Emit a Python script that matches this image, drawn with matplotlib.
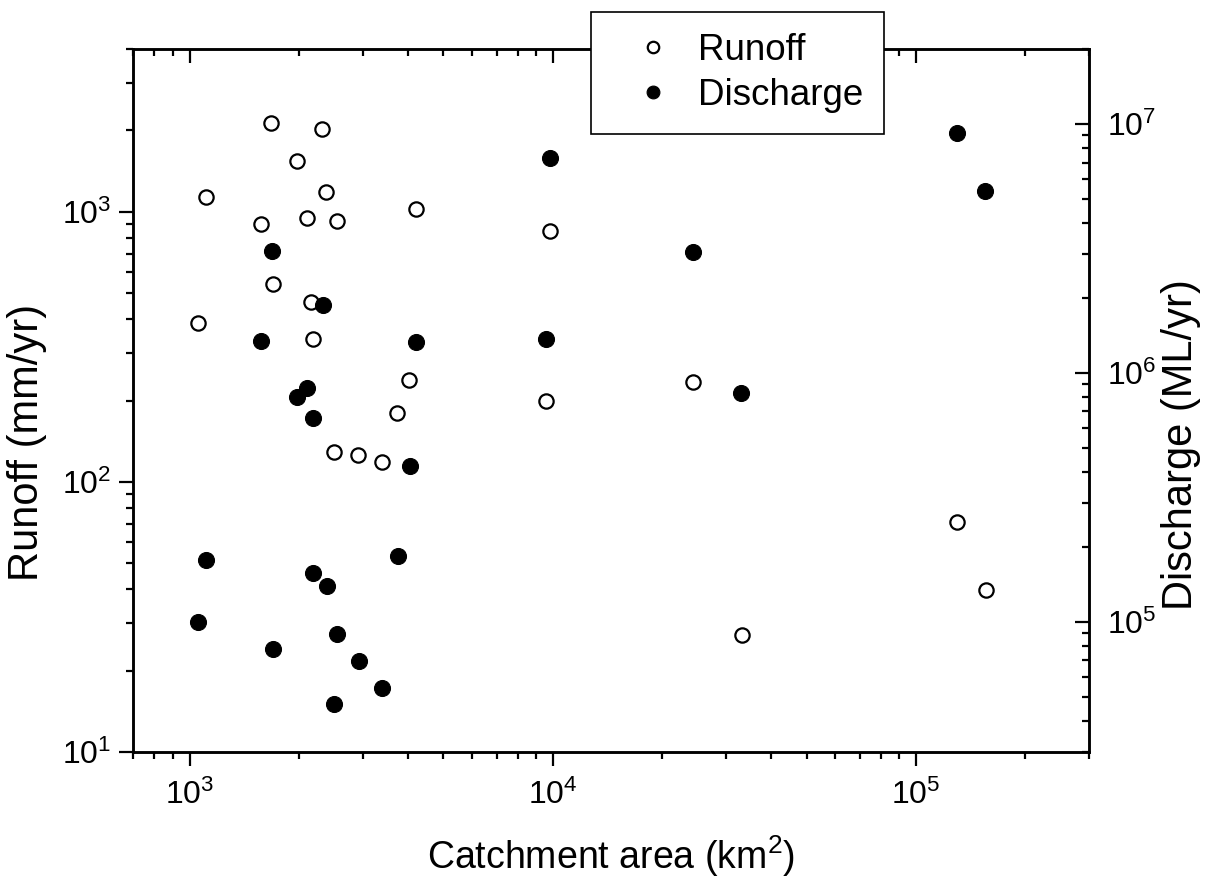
import numpy as np
import matplotlib
matplotlib.use('Agg')
import matplotlib.pyplot as plt
from matplotlib.ticker import LogLocator, NullFormatter, FuncFormatter

plt.rcParams['font.family'] = ['Liberation Sans', 'DejaVu Sans']
plt.rcParams['mathtext.fontset'] = 'custom'
plt.rcParams['mathtext.rm'] = 'Liberation Sans'
plt.rcParams['mathtext.it'] = 'Liberation Sans:italic'
plt.rcParams['mathtext.bf'] = 'Liberation Sans:bold'
plt.rcParams['mathtext.default'] = 'regular'

# ---- data ----
area_runoff = [1680, 2320, 1980, 2380, 1107, 4200, 2100, 2540, 1570, 9840,
               1700, 2165, 1054, 2190, 4025, 9550, 3720, 2495, 2910, 3380,
               24400, 129800, 156000, 33150]
runoff = [2125, 2020, 1545, 1183, 1136, 1021, 950, 924, 900, 850,
          538, 462, 386, 337, 239, 200, 180, 129, 126, 118.6,
          234, 70.9, 39.7, 27.0]

area_discharge = [9840, 1683, 2336, 1570, 4200, 9550, 2100, 1980, 2190, 4050,
                  1107, 3740, 2190, 2390, 1054, 2540, 1700, 2925, 3380, 2500,
                  24400, 32940, 129800, 155100]
discharge = [7.28e6, 3.09e6, 1.87e6, 1.34e6, 1.336e6, 1.366e6, 8.73e5, 8.03e5, 6.58e5, 4.23e5,
             1.774e5, 1.841e5, 1.569e5, 1.399e5, 9.94e4, 8.93e4, 7.77e4, 6.99e4, 5.43e4, 4.69e4,
             3.06e6, 8.31e5, 9.2e6, 5.38e6]

series_labels = ['Runoff', 'Discharge']
xlabel = 'Catchment area (km$^2$)'
ylabel_left = 'Runoff (mm/yr)'
ylabel_right = 'Discharge (ML/yr)'

W, H = 1211, 886
fig = plt.figure(figsize=(W / 100, H / 100), dpi=100)
ax = fig.add_axes([133.3 / W, 1 - 752 / H, 956 / W, 703 / H])

def pow_fmt(v, pos):
    e = int(round(np.log10(v)))
    return r'$10^{%d}$' % e

h1, = ax.plot(area_runoff, runoff, 'o', ls='none', mfc='white', mec='black',
              ms=10.3, mew=1.6, zorder=3)
ax.set_xscale('log')
ax.set_yscale('log')
ax.set_xlim(700, 3e5)
ax.set_ylim(10, 4000)

ax2 = ax.twinx()
h2, = ax2.plot(area_discharge, discharge, 'o', ls='none', mfc='black', mec='black',
               ms=11.5, mew=0.8, zorder=3)
ax2.set_yscale('log')
ax2.set_ylim(3e4, 2e7)

for a in (ax.xaxis, ax.yaxis, ax2.yaxis):
    a.set_major_locator(LogLocator(base=10))
    a.set_minor_locator(LogLocator(base=10, subs=np.arange(2, 10)))
    a.set_major_formatter(FuncFormatter(pow_fmt))
    a.set_minor_formatter(NullFormatter())

ax.tick_params(axis='x', which='both', bottom=True, top=False, direction='out',
               labelsize=23, width=1.6, pad=10)
ax.tick_params(axis='y', which='both', left=True, right=False, direction='out',
               labelsize=23, width=1.6, pad=6)
ax.tick_params(which='major', length=10)
ax.tick_params(which='minor', length=5)

ax2.tick_params(axis='y', which='both', right=True, left=False, direction='in',
                labelsize=23, width=1.6, pad=13)
ax2.tick_params(axis='y', which='major', length=10)
ax2.tick_params(axis='y', which='minor', length=5)
ax2.xaxis.set_visible(True)
ax2.tick_params(axis='x', which='both', top=True, bottom=False, labeltop=False,
                labelbottom=False, direction='in', width=1.6)
ax2.tick_params(axis='x', which='major', length=10)
ax2.tick_params(axis='x', which='minor', length=5)

for a in (ax, ax2):
    for s in a.spines.values():
        s.set_linewidth(1.8)

ax.set_xlabel(xlabel, fontsize=27, labelpad=16)
ax.set_ylabel(ylabel_left, fontsize=30)
ax2.set_ylabel(ylabel_right, fontsize=30)
ax.yaxis.set_label_coords(-0.0903, 0.44)
ax2.yaxis.set_label_coords(1.075, 0.437)

leg = fig.legend([h1, h2], series_labels, loc='upper left',
                 bbox_to_anchor=(590.7 / W, 1 - 11.7 / H), bbox_transform=fig.transFigure,
                 borderaxespad=0.0,
                 frameon=True, fancybox=False, framealpha=1, edgecolor='black',
                 fontsize=26.5, borderpad=0.57, labelspacing=0.27, handlelength=2.22,
                 handletextpad=0.13, markerscale=0.8)
leg.get_frame().set_linewidth(1.2)

fig.savefig('out.png', dpi=100)
